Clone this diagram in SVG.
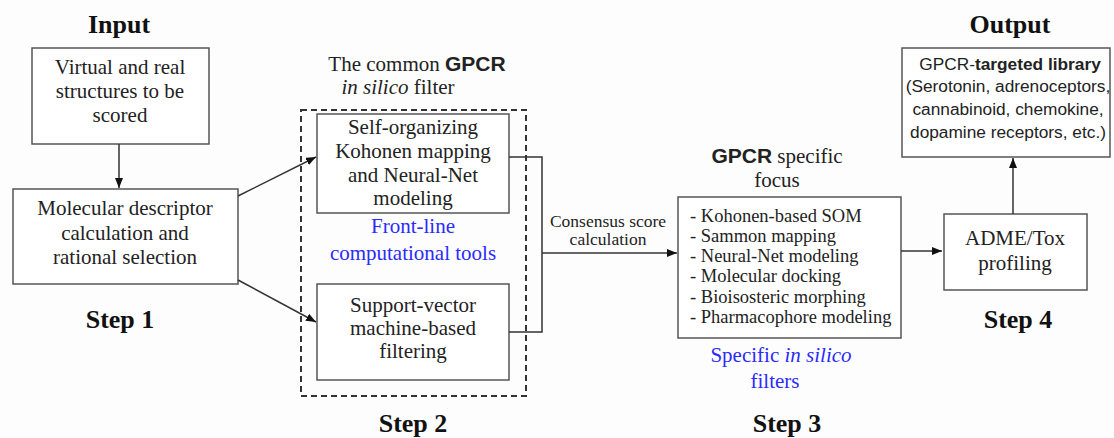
<svg xmlns="http://www.w3.org/2000/svg" width="1114" height="438" viewBox="0 0 1114 438">
<defs>
<marker id="ah" markerWidth="10" markerHeight="8" refX="10" refY="4" orient="auto" markerUnits="userSpaceOnUse">
<path d="M0,0 L10,4 L0,8 Z" fill="#111"/>
</marker>
<style>
.box{fill:#fff;stroke:#555;stroke-width:1.5}
.t{font-family:"Liberation Serif",serif;font-size:21px;fill:#222;text-anchor:middle}
.cs{font-family:"Liberation Serif",serif;font-size:17.5px;fill:#222;text-anchor:middle}
.h{font-family:"Liberation Serif",serif;font-size:26px;font-weight:bold;fill:#111;text-anchor:middle}
.s{font-family:"Liberation Sans",sans-serif;font-weight:bold}
.blue{fill:#2b2bff}
.l{font-family:"Liberation Serif",serif;font-size:18.5px;fill:#222}
.o{font-family:"Liberation Sans",sans-serif;font-size:17.3px;fill:#222;text-anchor:middle}
.c{fill:none;stroke:#333;stroke-width:1.5}
</style>
</defs>
<rect width="1114" height="438" fill="#fdfdfd"/>

<g id="labels">
<text class="h" x="119" y="33">Input</text>
<text class="h" x="120" y="328">Step 1</text>
<text class="t" x="417" y="71">The common <tspan class="s">GPCR</tspan></text>
<text class="t" x="398" y="94"><tspan font-style="italic">in silico</tspan> filter</text>
<text class="h" x="413" y="432">Step 2</text>
<text class="cs" x="608" y="227">Consensus score</text>
<text class="cs" x="608" y="245">calculation</text>
<text class="t" x="777" y="163"><tspan class="s">GPCR</tspan> specific</text>
<text class="t" x="777" y="187">focus</text>
<text class="t blue" x="781" y="362">Specific <tspan font-style="italic">in silico</tspan></text>
<text class="t blue" x="775" y="388">filters</text>
<text class="h" x="787" y="432">Step 3</text>
<text class="h" x="1018" y="328">Step 4</text>
<text class="h" x="1010" y="33">Output</text>
</g>

<g id="input">
<rect class="box" x="32" y="48" width="177" height="96"/>
<text class="t" x="120" y="74">Virtual and real</text>
<text class="t" x="120" y="98">structures to be</text>
<text class="t" x="120" y="122">scored</text>
</g>

<g id="descriptor">
<rect class="box" x="13" y="189" width="225" height="95"/>
<text class="t" x="125" y="215">Molecular descriptor</text>
<text class="t" x="125" y="240">calculation and</text>
<text class="t" x="125" y="264">rational selection</text>
</g>

<g id="filter-group">
<rect x="301" y="110" width="225" height="286" fill="none" stroke="#333" stroke-width="2" stroke-dasharray="6,4"/>
<text class="t blue" x="413" y="233">Front-line</text>
<text class="t blue" x="413" y="260">computational tools</text>
</g>

<g id="som">
<rect class="box" x="317" y="114" width="192" height="99"/>
<text class="t" x="413" y="134">Self-organizing</text>
<text class="t" x="413" y="158">Kohonen mapping</text>
<text class="t" x="413" y="182">and Neural-Net</text>
<text class="t" x="413" y="205">modeling</text>
</g>

<g id="svm">
<rect class="box" x="317" y="284" width="192" height="96"/>
<text class="t" x="413" y="312">Support-vector</text>
<text class="t" x="413" y="335">machine-based</text>
<text class="t" x="413" y="358">filtering</text>
</g>

<g id="specific">
<rect class="box" x="678" y="197" width="223" height="141"/>
<text class="l" x="690" y="222">- Kohonen-based SOM</text>
<text class="l" x="690" y="242">- Sammon mapping</text>
<text class="l" x="690" y="262">- Neural-Net modeling</text>
<text class="l" x="690" y="282">- Molecular docking</text>
<text class="l" x="690" y="303">- Bioisosteric morphing</text>
<text class="l" x="690" y="323">- Pharmacophore modeling</text>
</g>

<g id="adme">
<rect class="box" x="944" y="214" width="143" height="76"/>
<text class="t" x="1015" y="245">ADME/Tox</text>
<text class="t" x="1015" y="270">profiling</text>
</g>

<g id="output">
<rect class="box" x="902" y="48" width="208" height="109"/>
<text class="o" x="1010" y="70">GPCR-<tspan font-weight="bold">targeted library</tspan></text>
<text class="o" x="1008" y="92">(Serotonin, adrenoceptors,</text>
<text class="o" x="1008" y="115">cannabinoid, chemokine,</text>
<text class="o" x="1008" y="138">dopamine receptors, etc.)</text>
</g>

<g id="connectors">
<line class="c" x1="119" y1="144" x2="119" y2="188" marker-end="url(#ah)"/>
<line class="c" x1="238" y1="196" x2="316" y2="157" marker-end="url(#ah)"/>
<line class="c" x1="238" y1="280" x2="316" y2="322" marker-end="url(#ah)"/>
<polyline class="c" points="509,157 542,157 542,332 509,332"/>
<line class="c" x1="542" y1="253" x2="677" y2="253" marker-end="url(#ah)"/>
<line class="c" x1="901" y1="251" x2="942" y2="251" marker-end="url(#ah)"/>
<line class="c" x1="1013" y1="214" x2="1013" y2="158" marker-end="url(#ah)"/>
</g>
</svg>
